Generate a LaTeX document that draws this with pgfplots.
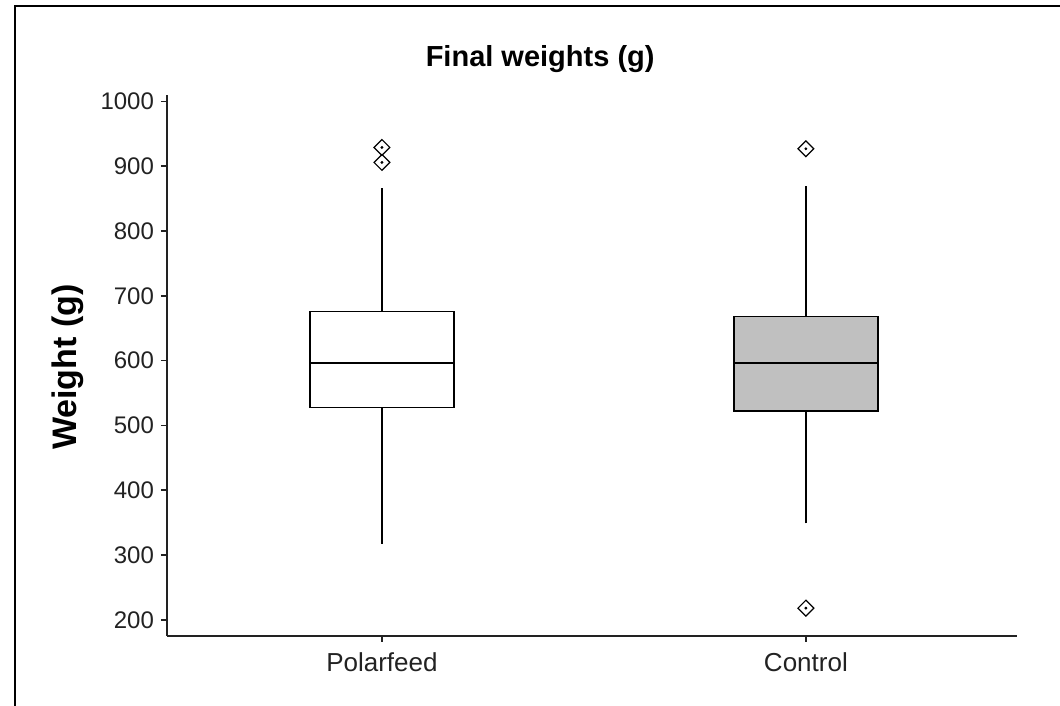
\documentclass[border=0pt]{standalone}
\usepackage{fontspec}
\setmainfont{Liberation Sans}
\usepackage{pgfplots}
\pgfplotsset{compat=1.18}

\definecolor{boxgray}{HTML}{C0C0C0}
\definecolor{axisgray}{HTML}{222222}

\begin{document}
\begin{tikzpicture}
\useasboundingbox (0,0) rectangle (530pt,353pt);
% outer frame (only left and top edges are visible)
\draw[line width=1pt, black] (7.5pt,-10pt) -- (7.5pt,350pt) -- (560pt,350pt);

\begin{axis}[
    at={(83.5pt,35pt)}, anchor=south west,
    scale only axis,
    width=425pt, height=270.5pt,
    xmin=0.493, xmax=2.498,
    ymin=175, ymax=1010,
    axis lines=left,
    axis line style={-, axisgray, line width=0.8pt},
    tick align=outside,
    major tick length=3pt,
    tick style={axisgray, line width=0.8pt},
    xtick={1,2},
    xticklabels={Polarfeed,Control},
    ytick={200,300,...,1000},
    /pgf/number format/1000 sep={},
    /pgf/number format/assume math mode=true,
    ticklabel style={font=\fontsize{12}{14}\selectfont, text=axisgray},
    xticklabel style={font=\fontsize{13}{15}\selectfont, yshift=-2pt},
    title={\textbf{Final weights (g)}},
    title style={at={(axis description cs:0.439,1.044)}, anchor=center,
                 font=\fontsize{14.5}{17}\selectfont},
    ylabel={\textbf{Weight (g)}},
    ylabel style={at={(axis description cs:-0.1165,0.497)}, anchor=center,
                  font=\fontsize{17}{20}\selectfont},
]

% whiskers (plain vertical lines, no caps)
\addplot[black, line width=0.75pt] coordinates {(1,317) (1,528)};
\addplot[black, line width=0.75pt] coordinates {(1,676) (1,867)};
\addplot[black, line width=0.75pt] coordinates {(2,349) (2,522)};
\addplot[black, line width=0.75pt] coordinates {(2,668) (2,869)};

% Polarfeed box: q1=528, q3=676, median=596
\addplot[draw=black, line width=0.75pt, fill=white]
    coordinates {(0.83,528) (1.17,528) (1.17,676) (0.83,676)} --cycle;
\addplot[black, line width=0.75pt] coordinates {(0.83,596) (1.17,596)};

% Control box: q1=522, q3=668, median=596
\addplot[draw=black, line width=0.75pt, fill=boxgray]
    coordinates {(1.83,522) (2.17,522) (2.17,668) (1.83,668)} --cycle;
\addplot[black, line width=0.75pt] coordinates {(1.83,596) (2.17,596)};

% outliers
\addplot[only marks, mark=square, mark size=2.8pt,
         mark options={rotate=45, line width=0.6pt, draw=black, fill=white}]
    coordinates {(1,929) (1,906) (2,927) (2,218)};
\addplot[only marks, mark=*, mark size=0.5pt, black]
    coordinates {(1,929) (1,906) (2,927) (2,218)};

\end{axis}
\end{tikzpicture}
\end{document}
